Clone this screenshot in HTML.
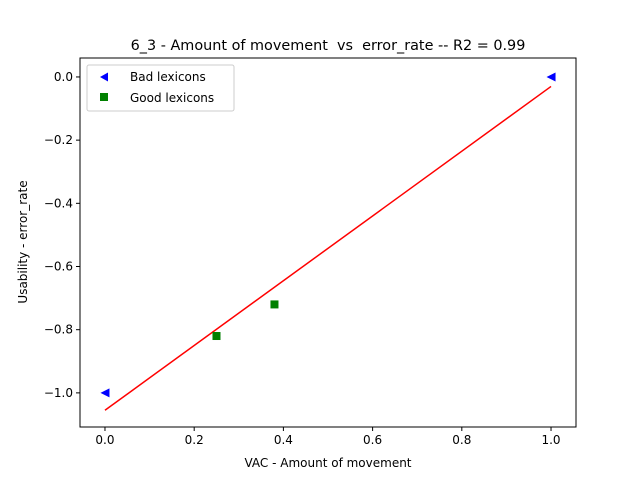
<!DOCTYPE html>
<html><head><meta charset="utf-8"><style>
body{margin:0;background:#fff;width:640px;height:480px;overflow:hidden}
text{font-family:"DejaVu Sans","Liberation Sans",sans-serif;fill:#000;white-space:pre}
</style></head><body>
<svg id="chart" width="640" height="480" xmlns="http://www.w3.org/2000/svg">
<text x="328" y="50" font-size="14.4" text-anchor="middle" xml:space="preserve">6_3 - Amount of movement  vs  error_rate -- R2 = 0.99</text>
<g id="axes"></g>
<text x="328" y="467" font-size="12" text-anchor="middle">VAC - Amount of movement</text>
<text transform="translate(27,242) rotate(-90)" font-size="12" text-anchor="middle">Usability - error_rate</text>
<g>
<rect x="87" y="65" width="147" height="46" fill="#fff" stroke="#ccc" rx="2"/>
<polygon points="100,77 108,72.5 108,81.5" fill="#0000ff"/>
<text x="130" y="81" font-size="12">Bad lexicons</text>
<rect x="100" y="93" width="8" height="8" fill="#008000"/>
<text x="130" y="102" font-size="12">Good lexicons</text>
</g>
</svg>
<script>
const xTicks=[0.0,0.2,0.4,0.6,0.8,1.0];
const yTicks=[0.0,-0.2,-0.4,-0.6,-0.8,-1.0];
const badX=[0.0,1.0];
const badY=[-1.0,0.0];
const goodX=[0.25,0.38];
const goodY=[-0.82,-0.72];
const fitX=[0.0,1.0];
const fitY=[-1.055,-0.03];
const L=80,R=576,T=58,B=427;
const xmin=-0.056,xmax=1.056,ymin=-1.108,ymax=0.06;
const sx=v=>L+(v-xmin)/(xmax-xmin)*(R-L);
const sy=v=>B-(v-ymin)/(ymax-ymin)*(B-T);
const NS="http://www.w3.org/2000/svg";
const g=document.getElementById('axes');
function mk(t,a){const e=document.createElementNS(NS,t);for(const k in a)e.setAttribute(k,a[k]);g.appendChild(e);return e;}
xTicks.forEach(v=>{const x=sx(v);
const t=mk('line',{x1:x,x2:x,y1:B,y2:B+4,stroke:'#000'});


const l=mk('text',{x:x,y:B+17,'font-size':12,'text-anchor':'middle'});l.textContent=v.toFixed(1);

});
yTicks.forEach(v=>{const y=sy(v);
const t=mk('line',{x1:L-4,x2:L,y1:y,y2:y,stroke:'#000'});


const l=mk('text',{x:L-7,y:y+4,'font-size':12,'text-anchor':'end'});l.textContent=(v===0?'0.0':'\u2212'+Math.abs(v).toFixed(1));

});
const fit=mk('line',{x1:sx(fitX[0]),y1:sy(fitY[0]),x2:sx(fitX[1]),y2:sy(fitY[1]),stroke:'#ff0000','stroke-width':1.5});


badX.forEach((v,i)=>{const x=sx(v),y=sy(badY[i]);
const p=mk('polygon',{points:`${x-4.5},${y} ${x+4.5},${y-4.5} ${x+4.5},${y+4.5}`,fill:'#0000ff'});

});
goodX.forEach((v,i)=>{const x=sx(v),y=sy(goodY[i]);
const p=mk('rect',{x:x-4,y:y-4,width:8,height:8,fill:'#008000'});

});
const f=mk('rect',{x:L,y:T,width:R-L,height:B-T,fill:'none',stroke:'#000','stroke-width':1});


</script>
</body></html>
